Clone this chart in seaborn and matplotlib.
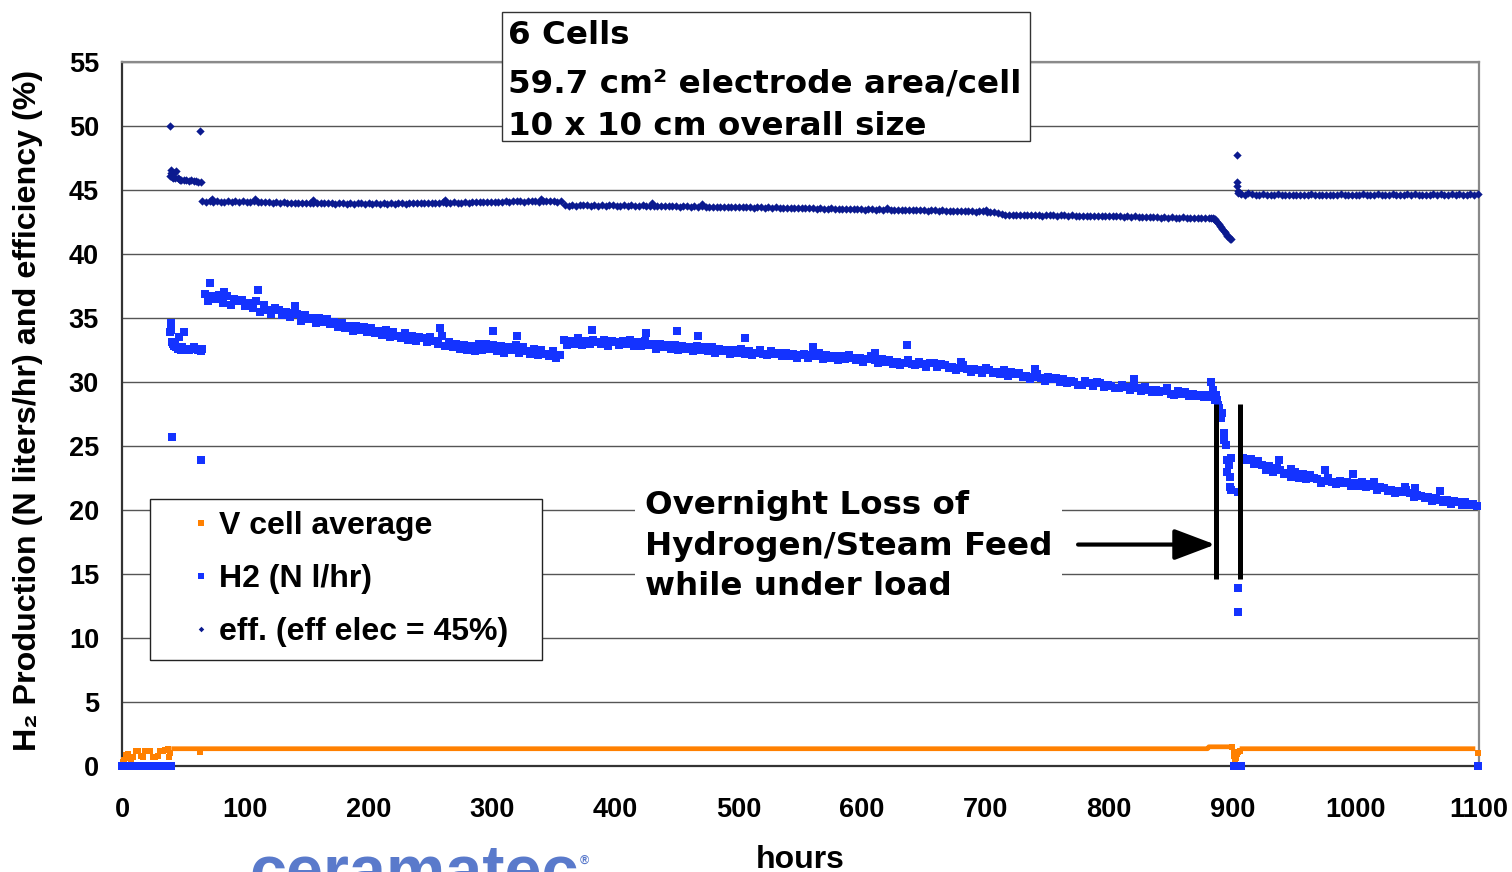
import numpy as np
import pandas as pd
import matplotlib
matplotlib.use("Agg")
import matplotlib.pyplot as plt
import seaborn as sns
from matplotlib.lines import Line2D
from matplotlib.legend_handler import HandlerLine2D
from matplotlib.patches import Rectangle

# ------------------------------------------------------------------ data
x_ticks = [0, 100, 200, 300, 400, 500, 600, 700, 800, 900, 1000, 1100]
y_ticks = [0, 5, 10, 15, 20, 25, 30, 35, 40, 45, 50, 55]

series_names = ["V cell average", "H2 (N l/hr)", "eff. (eff elec = 45%)"]

# --- V cell average
v_early_hours = [0, 1, 2, 3, 4, 5, 7, 9, 11, 13, 15, 17, 19, 21, 23, 25, 27, 29, 31, 33, 35, 37, 38, 39, 63]
v_early_vals = [0.1, 0.3, 0.5, 0.85, 0.6, 0.9, 0.5, 0.7, 1.2, 1.2, 0.75, 0.7, 1.2, 1.2, 1.2, 0.7, 0.7, 0.75, 1.2, 1.2, 1.25, 1.3, 0.7, 1.0, 1.1]
v_dip_hours = [900, 901, 901.5, 902, 902.5, 903, 904, 905, 906, 1099]
v_dip_vals = [1.45, 1.1, 0.8, 0.4, 0.25, 0.6, 0.9, 1.1, 1.2, 1.0]
v_band_hours = [40, 880, 881, 899, np.nan, 906, 1097]
v_band_vals = [1.35, 1.35, 1.5, 1.5, np.nan, 1.35, 1.35]

# --- H2 (N l/hr)
h2_zero_hours = [0, 2, 4, 6, 8, 10, 12, 14, 16, 22, 24, 26, 28, 30, 32, 34, 36, 38, 40, 901, 903, 905, 907, 1099]
h2_zero_vals = [0, 0, 0, 0, 0, 0, 0, 0, 0, 0, 0, 0, 0, 0, 0, 0, 0, 0, 0, 0, 0, 0, 0, 0]
h2_early_hours = [39, 39.5, 40, 40.5, 41, 42, 43, 44, 45, 46, 47, 48, 49, 50, 51, 52, 54, 56, 58, 60, 62, 64, 65, 40.5, 64]
h2_early_vals = [33.9, 34.6, 34.1, 33.1, 33.0, 32.8, 32.9, 32.7, 32.6, 33.5, 32.6, 32.5, 32.7, 33.9, 32.5, 32.6, 32.5, 32.6, 32.7, 32.6, 32.5, 32.4, 32.6, 25.7, 23.9]
# sampled every 3 h
h2_seg1_start = 67
h2_seg1_vals = [36.9, 36.3, 36.7, 36.5, 36.8, 36.2, 36.7, 36.0, 36.5, 36.3,
                36.4, 35.9, 36.2, 35.8, 36.3, 35.5, 36.0, 35.6, 35.3, 35.8,
                35.6, 35.2, 35.5, 35.1, 35.4, 35.3, 34.8, 35.2, 34.9, 35.0,
                34.6, 35.0, 34.7, 34.9, 34.5, 34.7, 34.3, 34.6, 34.2, 34.4,
                34.0, 34.4, 34.1, 34.3, 33.9, 34.2, 33.8, 34.0, 33.7, 34.1,
                33.5, 33.9, 33.6, 33.4, 33.8, 33.3, 33.6, 33.2, 33.5, 33.4,
                33.1, 33.5, 33.2, 33.0, 33.6, 32.8, 33.1, 32.7, 33.0, 32.6,
                32.9, 32.5, 32.8, 32.4, 33.0, 32.5, 33.0, 32.6, 32.9, 32.4,
                32.8, 32.3, 32.7, 32.5, 32.9, 32.3, 32.7, 32.4, 32.2, 32.6,
                32.1, 32.5, 32.2, 32.0, 32.4, 31.9, 32.1]
h2_seg2_start = 358
h2_seg2_vals = [33.3, 32.9, 33.2, 33.0, 33.4, 32.9, 33.2, 33.0, 33.3, 33.1,
                33.0, 33.3, 32.8, 33.2, 33.1, 32.9, 33.2, 33.0, 33.3, 32.8,
                33.1, 32.8, 33.2, 32.9, 33.0, 32.6, 33.0, 32.7, 32.9, 32.6,
                32.9, 32.5, 32.8, 32.6, 32.7, 32.4, 32.8, 32.5, 32.7, 32.4,
                32.7, 32.3, 32.6, 32.4, 32.5, 32.2, 32.5, 32.3, 32.6, 32.2,
                32.4, 32.1, 32.3, 32.5, 32.2, 32.1, 32.4, 32.2, 32.3, 32.0,
                32.3, 32.0, 32.2, 31.9, 32.1, 32.2, 31.9, 32.1, 32.0, 32.3,
                31.8, 32.1, 31.9, 32.0, 31.7, 32.0, 31.8, 32.1, 31.9, 31.7,
                31.9, 31.6, 31.8, 32.0, 31.7, 31.5, 31.8, 31.6, 31.7, 31.4,
                31.6, 31.3, 31.5, 31.7, 31.4, 31.3, 31.6, 31.4, 31.2, 31.5,
                31.5, 31.2, 31.4, 31.3, 31.1, 31.2, 30.9, 31.1, 31.3, 31.0,
                30.8, 31.0, 30.9, 30.7, 31.1, 30.9, 30.7, 30.8, 30.6, 30.9,
                30.5, 30.8, 30.6, 30.7, 30.4, 30.5, 30.2, 30.4, 30.6, 30.3,
                30.1, 30.4, 30.2, 30.3, 30.0, 30.2, 29.9, 30.1, 30.0, 29.8,
                29.8, 30.1, 29.9, 29.7, 30.0, 29.9, 29.6, 29.8, 29.7, 29.5,
                29.5, 29.8, 29.6, 29.4, 29.7, 29.5, 29.3, 29.6, 29.4, 29.2,
                29.4, 29.2, 29.3, 29.5, 29.1, 29.0, 29.3, 29.1, 29.2, 28.9,
                29.1, 28.9, 29.0, 28.8, 29.0, 28.8]
h2_drop_hours = [884, 886, 887, 888, 888.5, 889.5, 891, 892, 893, 893.5, 895, 895.5, 895.5, 897, 898, 898, 899, 899, 905, 905, 905]
h2_drop_vals = [29.4, 28.6, 29.0, 28.6, 28.2, 28.0, 27.2, 27.6, 26.0, 25.5, 25.1, 23.9, 23.0, 23.5, 22.6, 21.8, 24.1, 21.6, 21.4, 13.9, 12.0]
h2_seg3_start = 909
h2_seg3_vals = [24.1, 23.9, 24.0, 23.6, 23.8, 23.5, 23.1, 23.4, 23.0, 23.3,
                23.1, 22.8, 22.9, 22.6, 23.0, 22.5, 22.8, 22.4, 22.7, 22.5,
                22.4, 22.1, 22.3, 22.5, 22.2, 22.0, 22.3, 22.1, 22.2, 21.9,
                22.1, 21.9, 22.2, 21.8, 22.0, 21.9, 21.6, 21.8, 21.7, 21.5,
                21.6, 21.3, 21.5, 21.4, 21.6, 21.3, 21.0, 21.2, 21.1, 20.9,
                21.0, 20.7, 20.9, 20.8, 20.6, 20.8, 20.5, 20.7, 20.6, 20.4,
                20.6, 20.4, 20.5, 20.3]
h2_out_hours = [71, 83, 110, 140, 258, 301, 320, 381, 425, 450, 467, 505, 560, 610, 636, 680, 740, 820, 883, 938, 948, 975, 998, 1015, 1040, 1048, 1068]
h2_out_vals = [37.7, 37.0, 37.2, 35.9, 34.2, 34.0, 33.6, 34.1, 33.8, 34.0, 33.6, 33.4, 32.7, 32.3, 32.9, 31.6, 31.0, 30.2, 30.0, 23.9, 23.2, 23.1, 22.8, 22.2, 21.8, 21.7, 21.5]

# --- efficiency
eff_early_hours = [39, 39.5, 40, 40.5, 41, 42, 43, 44, 45, 46, 47, 48, 50, 52, 54, 56, 58, 60, 62, 64, 39, 63]
eff_early_vals = [46.1, 46.6, 46.3, 46.0, 45.95, 46.3, 45.9, 46.5, 45.9, 45.85, 45.8, 45.8, 45.75, 45.8, 45.7, 45.75, 45.7, 45.7, 45.65, 45.65, 50.0, 49.6]
eff_seg1_start = 65
eff_seg1_vals = [44.15, 44.1, 44.12, 44.08, 44.14, 44.1, 44.06, 44.12, 44.09, 44.13,
                 44.07, 44.11, 44.05, 44.1, 44.16, 44.08, 44.04, 44.1, 44.06, 44.02,
                 44.05, 44.0, 44.03, 43.98, 44.02, 44.0, 43.97, 44.02, 43.99, 43.96,
                 44.0, 43.95, 43.98, 44.01, 43.96, 43.98, 43.94, 43.99, 43.96, 43.93,
                 43.97, 43.94, 43.99, 43.95, 43.92, 43.96, 43.93, 43.97, 43.94, 43.98,
                 43.93, 43.96, 43.92, 43.95, 43.97, 43.94, 43.98, 43.95, 44.0, 43.96,
                 43.99, 43.95, 44.02, 43.97, 44.0, 44.03, 43.98, 44.01, 44.05, 44.0,
                 44.02, 44.06, 44.0, 44.04, 44.08, 44.05, 44.09, 44.03, 44.1, 44.06,
                 44.1, 44.07, 44.12, 44.08, 44.14, 44.11, 44.15, 44.09, 44.13, 44.17,
                 44.14, 44.1, 44.16, 44.12, 44.15, 44.13, 44.1, 44.12]
eff_seg2_start = 359
eff_seg2_vals = [43.82, 43.78, 43.8, 43.76, 43.83, 43.79, 43.81, 43.77, 43.8, 43.78,
                 43.8, 43.76, 43.79, 43.82, 43.77, 43.78, 43.8, 43.75, 43.79, 43.77,
                 43.76, 43.79, 43.74, 43.78, 43.75, 43.77, 43.73, 43.76, 43.74, 43.78,
                 43.74, 43.71, 43.75, 43.72, 43.7, 43.73, 43.69, 43.72, 43.7, 43.67,
                 43.7, 43.68, 43.71, 43.66, 43.69, 43.67, 43.7, 43.65, 43.68, 43.64,
                 43.66, 43.63, 43.67, 43.64, 43.62, 43.65, 43.61, 43.64, 43.6, 43.63,
                 43.61, 43.58, 43.62, 43.59, 43.57, 43.6, 43.56, 43.59, 43.55, 43.58,
                 43.55, 43.52, 43.56, 43.53, 43.5, 43.54, 43.51, 43.53, 43.49, 43.52,
                 43.5, 43.47, 43.51, 43.48, 43.46, 43.49, 43.45, 43.48, 43.44, 43.47,
                 43.45, 43.42, 43.46, 43.43, 43.41, 43.44, 43.4, 43.43, 43.39, 43.42,
                 43.4, 43.37, 43.41, 43.38, 43.36, 43.39, 43.35, 43.38, 43.34, 43.37,
                 43.35, 43.32, 43.36, 43.33, 43.3, 43.32, 43.28, 43.2, 43.1, 43.06,
                 43.08, 43.04, 43.07, 43.03, 43.06, 43.05, 43.02, 43.06, 43.03, 43.0,
                 43.04, 43.01, 43.05, 43.0, 43.03, 43.02, 42.98, 43.01, 42.97, 43.0,
                 42.99, 42.96, 43.0, 42.95, 42.98, 42.97, 42.94, 42.98, 42.93, 42.96,
                 42.94, 42.91, 42.95, 42.9, 42.93, 42.92, 42.88, 42.91, 42.87, 42.9,
                 42.88, 42.85, 42.89, 42.84, 42.87, 42.85, 42.82, 42.86, 42.81, 42.84,
                 42.82, 42.79, 42.83, 42.78, 42.8]
eff_drop_hours = [883, 884, 885, 886, 887, 888, 889, 890, 891, 892, 893, 894, 895, 896, 897, 898, 899]
eff_drop_vals = [42.85, 42.8, 42.75, 42.7, 42.6, 42.5, 42.35, 42.2, 42.1, 41.95, 41.8, 41.7, 41.55, 41.4, 41.3, 41.15, 41.2]
eff_recover_hours = [904, 904, 904, 904.5, 905, 906]
eff_recover_vals = [47.7, 45.6, 45.3, 44.9, 44.75, 44.8]
eff_seg3_start = 907
eff_seg3_vals = [44.7, 44.62, 44.8, 44.65, 44.6, 44.63, 44.67, 44.6, 44.64, 44.61,
                 44.65, 44.6, 44.63, 44.58, 44.62, 44.6, 44.64, 44.59, 44.62, 44.66,
                 44.61, 44.58, 44.63, 44.6, 44.64, 44.62, 44.59, 44.65, 44.61, 44.6,
                 44.64, 44.6, 44.62, 44.67, 44.61, 44.63, 44.6, 44.65, 44.62, 44.59,
                 44.62, 44.66, 44.6, 44.64, 44.61, 44.65, 44.62, 44.68, 44.63, 44.6,
                 44.64, 44.61, 44.66, 44.62, 44.67, 44.63, 44.6, 44.65, 44.62, 44.66,
                 44.64, 44.61, 44.66, 44.62, 44.65]
eff_out_hours = [73, 108, 155, 262, 340, 430, 470, 620, 700]
eff_out_vals = [44.3, 44.28, 44.2, 44.22, 44.3, 43.95, 43.9, 43.62, 43.45]

sample_step = 3  # hours between logged readings in the regular segments

# annotation: overnight loss window
loss_hours = [887, 906.5]
loss_bar_range = [14.6, 28.3]
arrow_level = 17.3
arrow_from = 775

# ------------------------------------------------------------------ helpers
def seg(start, vals):
    return start + sample_step * np.arange(len(vals))

h2_df = pd.DataFrame({
    "hours": np.concatenate([h2_zero_hours, h2_early_hours, seg(h2_seg1_start, h2_seg1_vals),
                             seg(h2_seg2_start, h2_seg2_vals), h2_drop_hours,
                             seg(h2_seg3_start, h2_seg3_vals), h2_out_hours]),
    "value": np.concatenate([h2_zero_vals, h2_early_vals, h2_seg1_vals, h2_seg2_vals,
                             h2_drop_vals, h2_seg3_vals, h2_out_vals]),
})
eff_df = pd.DataFrame({
    "hours": np.concatenate([eff_early_hours, seg(eff_seg1_start, eff_seg1_vals),
                             seg(eff_seg2_start, eff_seg2_vals), eff_drop_hours,
                             eff_recover_hours, seg(eff_seg3_start, eff_seg3_vals), eff_out_hours]),
    "value": np.concatenate([eff_early_vals, eff_seg1_vals, eff_seg2_vals, eff_drop_vals,
                             eff_recover_vals, eff_seg3_vals, eff_out_vals]),
})
v_df = pd.DataFrame({"hours": np.concatenate([v_early_hours, v_dip_hours]),
                     "value": np.concatenate([v_early_vals, v_dip_vals])})

# ------------------------------------------------------------------ style
sns.set_style("white")
LIB = ["Liberation Sans", "DejaVu Sans"]
VER = ["DejaVu Sans"]
plt.rcParams["font.family"] = LIB
plt.rcParams["font.weight"] = "bold"
plt.rcParams["axes.labelweight"] = "bold"
plt.rcParams["text.color"] = "black"
plt.rcParams["axes.labelcolor"] = "black"
plt.rcParams["xtick.color"] = "black"
plt.rcParams["ytick.color"] = "black"

ORANGE = "#FF8000"
BLUE = "#1433FF"
NAVY = "#0B1A8F"

W, H = 1512, 872
fx = lambda px: px / W
fy = lambda py: 1 - py / H

fig = plt.figure(figsize=(W / 100, H / 100), dpi=100)
fig.patch.set_facecolor("white")
ax = fig.add_axes([fx(122), fy(766), (1479 - 122) / W, (766 - 62) / H])

# series
ax.plot(v_band_hours, v_band_vals, color=ORANGE, lw=3.4, solid_capstyle="butt", zorder=3)
sns.scatterplot(data=v_df, x="hours", y="value", ax=ax, marker="s", s=19, color=ORANGE,
                linewidth=0, legend=False, zorder=3, clip_on=False)
sns.scatterplot(data=h2_df, x="hours", y="value", ax=ax, marker="s", s=27, color=BLUE,
                linewidth=0, legend=False, zorder=4, clip_on=False)
sns.scatterplot(data=eff_df, x="hours", y="value", ax=ax, marker="D", s=18, color=NAVY,
                linewidth=0, legend=False, zorder=5, clip_on=False)

ax.set_xlim(0, 1100)
ax.set_ylim(0, 55)
ax.set_xticks(x_ticks)
ax.set_yticks(y_ticks)
ax.set_xticklabels([str(t) for t in x_ticks])
ax.set_yticklabels([str(t) for t in y_ticks])
ax.tick_params(axis="both", direction="out", length=6, width=1.3, color="#333333",
               labelsize=19.5, labelcolor="black")
ax.tick_params(axis="x", pad=16)
ax.tick_params(axis="y", pad=10.5)
for lbl in ax.get_xticklabels() + ax.get_yticklabels():
    lbl.set_fontweight("bold")

ax.yaxis.grid(True, color="#555555", lw=1.0)
ax.xaxis.grid(False)
ax.set_axisbelow(True)
for s in ["left", "bottom"]:
    ax.spines[s].set_color("#333333")
    ax.spines[s].set_linewidth(1.6)
for s in ["top", "right"]:
    ax.spines[s].set_color("#8a8a8a")
    ax.spines[s].set_linewidth(1.6)

ax.set_xlabel("hours", fontsize=23, fontweight="bold", va="baseline", color="black")
ax.xaxis.set_label_coords((800 - 122) / 1357, (766 - 868) / 704)
ax.set_ylabel("H\u2082 Production (N liters/hr) and efficiency (%)", fontsize=23.2,
              fontweight="bold", va="center", color="black")
ax.yaxis.set_label_coords((28 - 122) / 1357, (766 - 410) / 704)

# annotation
ax.vlines(loss_hours, loss_bar_range[0], loss_bar_range[1], colors="black", lw=3.6, zorder=6)
ax.annotate("", xy=(loss_hours[0] - 0.8, arrow_level), xytext=(arrow_from, arrow_level),
            arrowprops=dict(arrowstyle="-|>,head_length=0.9,head_width=0.34", color="black",
                            lw=3.0, mutation_scale=28, shrinkA=0, shrinkB=0), zorder=6)
ax.text((645 - 122) / 1.2336, (766 - 546) / 12.8,
        "Overnight Loss of\nHydrogen/Steam Feed\nwhile under load",
        family=VER, fontweight="bold", fontsize=23.4, ha="left", va="center",
        linespacing=1.39, zorder=5, color="black",
        bbox=dict(boxstyle="square,pad=0.3", fc="white", ec="none"))

# legend (frame drawn at the reference position, entries placed inside it)
class OffsetMarkerHandler(HandlerLine2D):
    def get_xdata(self, legend, xdescent, ydescent, width, height, fontsize):
        inset = 0.25 * fontsize
        right = -xdescent + width
        xdata = np.array([right - 2 * inset, right])
        return xdata, xdata

ax.add_patch(Rectangle((fx(150), fy(660)), (542 - 150) / W, (660 - 499) / H,
                       transform=fig.transFigure, fc="white", ec="#222222", lw=1.0,
                       clip_on=False, zorder=6.5))
handles = [
    Line2D([], [], ls="none", marker="s", ms=4.6, color=ORANGE, mew=0),
    Line2D([], [], ls="none", marker="s", ms=4.2, color=BLUE, mew=0),
    Line2D([], [], ls="none", marker="D", ms=2.8, color=NAVY, mew=0),
]
leg = ax.legend(handles, series_names, handler_map={Line2D: OffsetMarkerHandler()},
                loc="upper left", bbox_to_anchor=(fx(177), fy(511)),
                bbox_transform=fig.transFigure, borderaxespad=0, borderpad=0,
                handlelength=1.0, handletextpad=0.3, labelspacing=0.72, numpoints=1,
                frameon=False, labelcolor="black",
                prop={"family": LIB, "weight": "bold", "size": 23})
leg.set_zorder(7)

# info box at top
fig.add_artist(Rectangle((fx(502), fy(141)), (1030 - 502) / W, (141 - 12) / H,
                         transform=fig.transFigure, fc="white", ec="#333333", lw=1.0, zorder=3))
for txt, base in [("6 Cells", 44), ("59.7 cm\u00b2 electrode area/cell", 93),
                  ("10 x 10 cm overall size", 135)]:
    fig.text(fx(508), fy(base), txt, family=VER, fontweight="bold", fontsize=23.4,
             ha="left", va="baseline", zorder=4, color="black")

# logo fragment at the bottom edge (cut off in the reference as well)
fig.text(fx(249), fy(891), "ceramatec", family=LIB, fontweight="bold", fontsize=48,
         color="#5A7ACB", ha="left", va="baseline", zorder=2)
fig.text(fx(580), fy(864), "\u00ae", family=LIB, fontsize=9, color="#5A7ACB",
         ha="left", va="baseline", zorder=2)

fig.savefig("out.png", dpi=100, facecolor="white")
